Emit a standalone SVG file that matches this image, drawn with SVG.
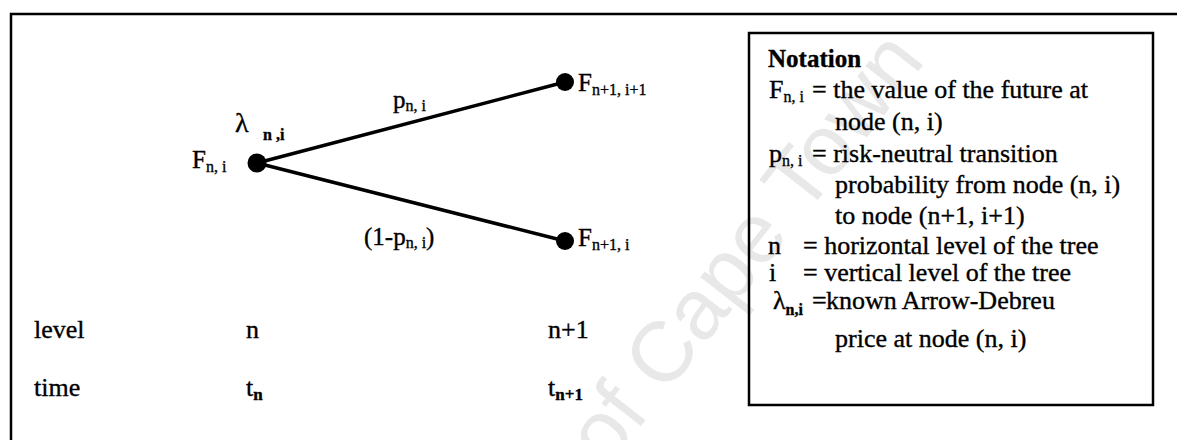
<svg xmlns="http://www.w3.org/2000/svg" width="1177" height="440" viewBox="0 0 1177 440">
<style>
  text { font-family: "Liberation Serif", "Times New Roman", serif; fill: #000; stroke: #000; stroke-width: 0.35; }
  .lbl { font-size: 25px; }
  .big { font-size: 26px; }
  .sub { font-size: 16px; }
  .subb { font-size: 17px; font-weight: bold; }
  .edge { stroke: #000; stroke-width: 3.5; stroke-linecap: round; fill: none; }
  .dot { fill: #000; }
  .frame { stroke: #000; stroke-width: 2.5; fill: none; }
  .wm { font-family: "Liberation Sans", Arial, sans-serif; font-size: 85px; fill: #e8e8e8; stroke: none; }
</style>
<rect width="1177" height="440" fill="#fff"/>
<g id="watermark">
  <text class="wm" transform="translate(363,782) rotate(-52)">University of Cape Town</text>
</g>
<path class="frame" d="M11,440 V14 H1177"/>
<g id="connectors">
  <line class="edge" x1="257" y1="163" x2="565" y2="82"/>
  <line class="edge" x1="257" y1="163" x2="565" y2="241"/>
</g>
<g id="edge-labels">
  <text class="lbl" x="393" y="108">p<tspan class="sub" dy="3">n, i</tspan></text>
  <text class="lbl" x="364" y="245">(1-p<tspan class="sub" dy="3">n, i</tspan><tspan dy="-3">)</tspan></text>
</g>
<g id="node-root">
  <circle class="dot" cx="257" cy="163" r="9.5"/>
  <text x="235" y="132" style="font-size:28px">λ</text>
  <text x="263" y="140" style="font-size:16px;font-weight:bold">n ,i</text>
  <text class="lbl" x="192" y="168">F<tspan class="sub" dy="4">n, i</tspan></text>
</g>
<g id="node-up">
  <circle class="dot" cx="565" cy="82" r="9"/>
  <text class="lbl" x="578" y="91">F<tspan class="sub" dy="4">n+1, i+1</tspan></text>
</g>
<g id="node-down">
  <circle class="dot" cx="565" cy="241" r="9"/>
  <text class="lbl" x="578" y="246">F<tspan class="sub" dy="4">n+1, i</tspan></text>
</g>
<g id="axis-labels">
  <text class="big" x="34" y="338">level</text>
  <text class="big" x="246" y="338">n</text>
  <text class="big" x="548" y="338">n+1</text>
  <text class="big" x="34" y="396">time</text>
  <text class="big" x="246" y="396">t<tspan class="subb" dy="4">n</tspan></text>
  <text class="big" x="548" y="396">t<tspan class="subb" dy="4">n+1</tspan></text>
</g>
<g id="notation">
  <rect class="frame" x="749" y="33" width="404" height="372"/>
  <text x="768" y="67" style="font-size:25px;font-weight:bold">Notation</text>
  <text class="big" x="769" y="98">F<tspan class="sub" dy="4">n, i</tspan></text>
  <text class="big" x="812" y="98">= the value of the future at</text>
  <text class="big" x="835" y="130">node (n, i)</text>
  <text class="big" x="769" y="162">p<tspan class="sub" dy="4">n, i</tspan></text>
  <text class="big" x="812" y="162">= risk-neutral transition</text>
  <text class="big" x="835" y="193">probability from node (n, i)</text>
  <text class="big" x="835" y="224">to node (n+1, i+1)</text>
  <text class="big" x="768" y="254">n</text>
  <text class="big" x="803" y="254">= horizontal level of the tree</text>
  <text class="big" x="769" y="281">i</text>
  <text class="big" x="803" y="281">= vertical level of the tree</text>
  <text class="big" x="773" y="309">λ<tspan style="font-size:16px;font-weight:bold" dy="6">n,i</tspan></text>
  <text class="big" x="812" y="309">=</text>
  <text class="big" x="826" y="309">known Arrow-Debreu</text>
  <text class="big" x="835" y="347">price at node (n, i)</text>
</g>
</svg>
